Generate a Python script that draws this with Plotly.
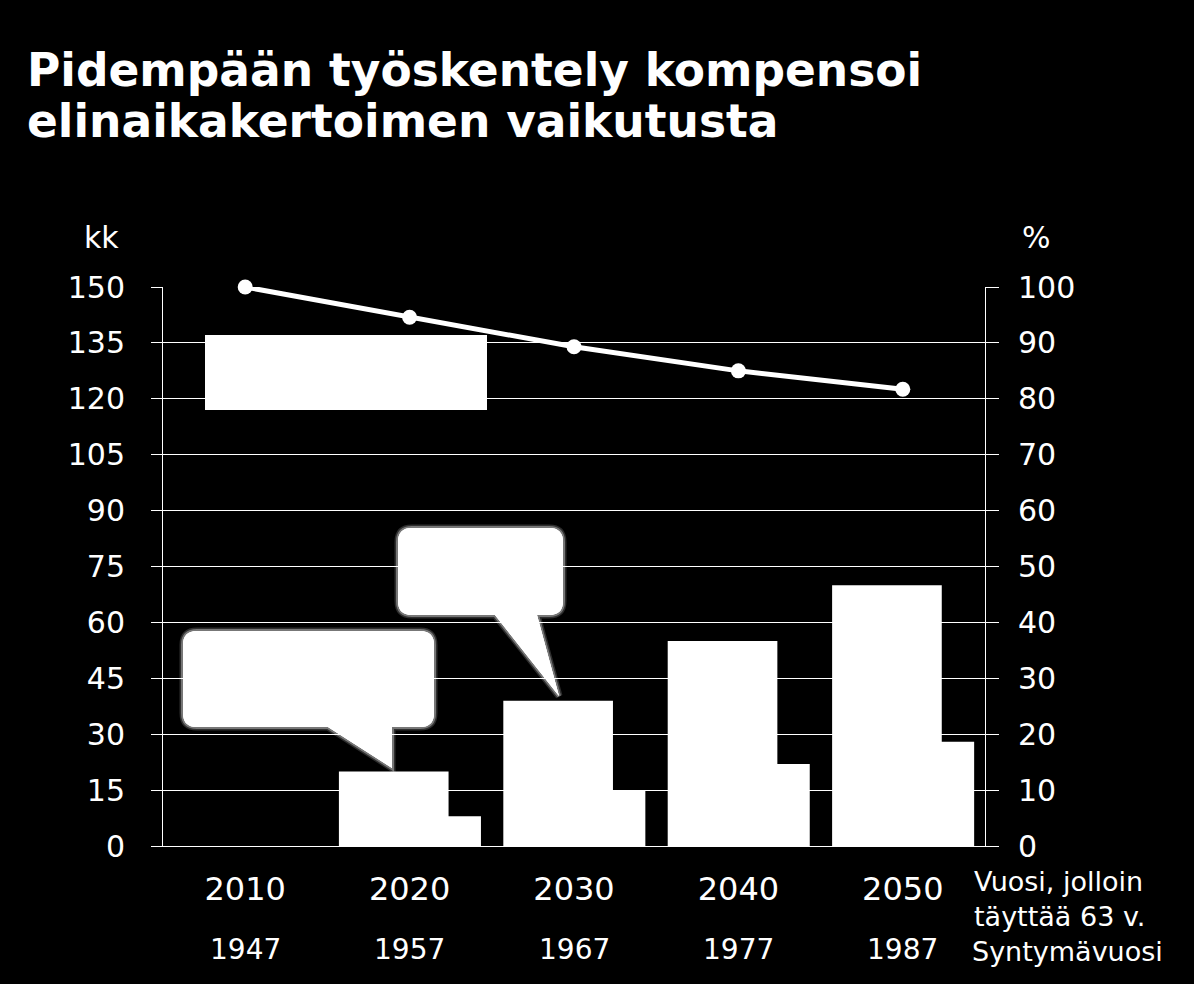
import plotly.graph_objects as go

# ---- data ----
years = ["2010", "2020", "2030", "2040", "2050"]
birth_years = ["1947", "1957", "1967", "1977", "1987"]
work_longer_kk = [0, 20, 39, 55, 70]          # tall bars (kk)
life_coeff_kk = [0, 8, 15, 22, 28]            # short bars (kk)
pension_pct = [100, 94.6, 89.3, 85.0, 81.7]   # line (%)
left_ticks = [0, 15, 30, 45, 60, 75, 90, 105, 120, 135, 150]
right_ticks = [0, 10, 20, 30, 40, 50, 60, 70, 80, 90, 100]

W, H = 1194, 984
L, R, T, B = 163, 985, 287, 846   # plot area in pixels


def px(x):
    return (x - L) / (R - L)


def py(y):
    return (B - y) / (B - T)


fig = go.Figure()
fig.add_trace(go.Bar(x=years, y=life_coeff_kk, offset=-0.2, width=0.634,
                     marker=dict(color="white", line=dict(width=0)), showlegend=False))
fig.add_trace(go.Bar(x=years, y=work_longer_kk, offset=-0.43, width=0.667,
                     marker=dict(color="white", line=dict(width=0)), showlegend=False))
fig.add_trace(go.Scatter(x=years, y=pension_pct, yaxis="y2", mode="lines+markers",
                         line=dict(color="white", width=5), cliponaxis=False,
                         marker=dict(color="white", size=15), showlegend=False))

tick_font = dict(family="DejaVu Sans", size=30, color="white")
fig.update_layout(
    width=W, height=H,
    margin=dict(l=L, r=W - R, t=T, b=H - B, pad=0),
    paper_bgcolor="black", plot_bgcolor="black",
    barmode="overlay",
    showlegend=False,
    xaxis=dict(type="category", range=[-0.5, 4.5], showgrid=False, zeroline=False,
               showline=True, linecolor="white", linewidth=1, ticks="",
               tickfont=dict(family="DejaVu Sans", size=32, color="white"),
               ticklabelstandoff=15),
    yaxis=dict(range=[0, 150], tickvals=left_ticks, showgrid=True, gridcolor="white",
               gridwidth=1, zeroline=False, showline=True, linecolor="white", linewidth=1,
               ticks="outside", ticklen=11, tickcolor="white", tickwidth=1,
               tickfont=tick_font, ticklabelstandoff=20),
    yaxis2=dict(range=[0, 100], tickvals=right_ticks, overlaying="y", side="right",
                showgrid=False, zeroline=False, showline=True, linecolor="white", linewidth=1,
                ticks="outside", ticklen=13, tickcolor="white", tickwidth=1,
                tickfont=tick_font, ticklabelstandoff=13),
)

# ---- decorations (white legend box and speech bubbles) ----
fig.add_shape(type="rect", xref="paper", yref="paper",
              x0=px(205), x1=px(487), y0=py(410), y1=py(335),
              fillcolor="white", line=dict(width=0), layer="above")


def bubble(x0, y0, x1, y1, tail, r=14):
    pts = []
    pts.append(("M", (x0 + r, y0)))
    pts.append(("L", (x1 - r, y0)))
    pts.append(("Q", (x1, y0), (x1, y0 + r)))
    pts.append(("L", (x1, y1 - r)))
    pts.append(("Q", (x1, y1), (x1 - r, y1)))
    for p in tail:
        pts.append(("L", p))
    pts.append(("L", (x0 + r, y1)))
    pts.append(("Q", (x0, y1), (x0, y1 - r)))
    pts.append(("L", (x0, y0 + r)))
    pts.append(("Q", (x0, y0), (x0 + r, y0)))
    s = ""
    for item in pts:
        cmd = item[0]
        coords = " ".join(f"{px(p[0]):.5f},{py(p[1]):.5f}" for p in item[1:])
        s += f"{cmd}{coords} "
    return s + "Z"


b1 = bubble(183, 631, 434, 727, [(392, 727), (392, 768), (328, 727)])
b2 = bubble(398, 528, 563, 615, [(537, 615), (559, 696), (495, 615)])
for path in (b1, b2):
    fig.add_shape(type="path", path=path, xref="paper", yref="paper",
                  fillcolor="white",
                  line=dict(color="rgba(255,255,255,0.18)", width=7), layer="above")
    fig.add_shape(type="path", path=path, xref="paper", yref="paper",
                  fillcolor="white",
                  line=dict(color="rgba(255,255,255,0.35)", width=4), layer="above")
    fig.add_shape(type="path", path=path, xref="paper", yref="paper",
                  fillcolor="white", line=dict(width=0), layer="above")

# ---- texts ----
title_font = dict(family="DejaVu Sans", size=45.5, color="white")
fig.add_annotation(text="<b>Pidempään työskentely kompensoi</b>", xref="paper", yref="paper",
                   x=px(25), y=py(70), xanchor="left", yanchor="middle",
                   showarrow=False, font=title_font)
fig.add_annotation(text="<b>elinaikakertoimen vaikutusta</b>", xref="paper", yref="paper",
                   x=px(25), y=py(122), xanchor="left", yanchor="middle",
                   showarrow=False, font=title_font)

fig.add_annotation(text="kk", xref="paper", yref="paper", x=px(101), y=py(237),
                   xanchor="center", yanchor="middle", showarrow=False, font=tick_font)
fig.add_annotation(text="%", xref="paper", yref="paper", x=px(1036), y=py(237),
                   xanchor="center", yanchor="middle", showarrow=False, font=tick_font)

small_font = dict(family="DejaVu Sans", size=28, color="white")
for i, by in enumerate(birth_years):
    fig.add_annotation(text=by, xref="x", yref="paper", x=i, y=py(950),
                       xanchor="center", yanchor="middle", showarrow=False, font=small_font)

fig.add_annotation(text="Vuosi, jolloin<br>täyttää 63 v.", xref="paper", yref="paper",
                   x=px(972), y=py(899), xanchor="left", yanchor="middle", align="left",
                   showarrow=False, font=dict(family="DejaVu Sans", size=27, color="white"))
fig.add_annotation(text="Syntymävuosi", xref="paper", yref="paper", x=px(970), y=py(951),
                   xanchor="left", yanchor="middle", showarrow=False,
                   font=dict(family="DejaVu Sans", size=27, color="white"))

fig.write_html("out.html")
